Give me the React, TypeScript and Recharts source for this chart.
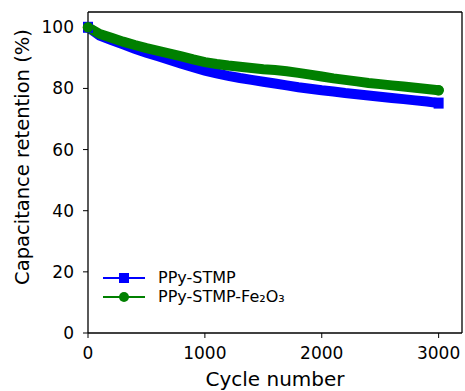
import { Line, LineChart, ReferenceLine, XAxis, YAxis } from "recharts";

const cycles = [
  0, 100, 200, 300, 400, 500, 600, 700, 800, 900, 1000, 1100, 1200, 1300, 1400,
  1500, 1600, 1700, 1800, 1900, 2000, 2100, 2200, 2300, 2400, 2500, 2600, 2700,
  2800, 2900, 3000
];

const ppyStmp = [
  100, 97.3, 95.8, 94.4, 93.0, 91.7, 90.5, 89.3, 88.1, 86.9, 85.8, 84.9, 84.1,
  83.4, 82.8, 82.2, 81.6, 81.0, 80.4, 79.9, 79.4, 79.0, 78.5, 78.1, 77.7, 77.3,
  76.9, 76.5, 76.1, 75.7, 75.2
];

const ppyStmpFe = [
  100, 97.8, 96.6, 95.3, 94.2, 93.2, 92.3, 91.4, 90.5, 89.5, 88.6, 88.0, 87.5,
  87.1, 86.7, 86.3, 86.0, 85.6, 85.1, 84.5, 83.9, 83.3, 82.8, 82.3, 81.8, 81.4,
  81.0, 80.6, 80.2, 79.8, 79.4
];

const xTicks = [0, 1000, 2000, 3000];
const yTicks = [0, 20, 40, 60, 80, 100];

const font = "'DejaVu Sans', sans-serif";
const blue = "#0000ff";
const green = "#008000";
const last = cycles.length - 1;

const data = cycles.map((cycle, i) => ({
  cycle,
  stmp: ppyStmp[i],
  stmpFe: ppyStmpFe[i]
}));

// only the end points get a visible marker, the thick stroke makes the dense band
function SquareDot(props: { cx?: number; cy?: number; index?: number }) {
  const { cx, cy, index } = props;
  if (cx == null || cy == null || (index !== 0 && index !== last)) return <g key={`sq-${index}`} />;
  return <rect key={`sq-${index}`} x={cx - 5} y={cy - 5.5} width={10} height={11} fill={blue} />;
}

function CircleDot(props: { cx?: number; cy?: number; index?: number }) {
  const { cx, cy, index } = props;
  if (cx == null || cy == null || (index !== 0 && index !== last)) return <g key={`ci-${index}`} />;
  return <circle key={`ci-${index}`} cx={cx} cy={cy} r={5.3} fill={green} />;
}

function ChartLegend() {
  const items = [
    { label: "PPy-STMP", color: blue, marker: "square" },
    { label: "PPy-STMP-Fe₂O₃", color: green, marker: "circle" }
  ];
  return (
    <div
      style={{
        position: "absolute",
        left: 102,
        top: 269,
        fontFamily: font,
        fontSize: 16,
        lineHeight: "18.7px",
        color: "#000"
      }}
    >
      {items.map((item) => (
        <div key={item.label} style={{ display: "flex", alignItems: "center", height: 18.7 }}>
          <svg width={44} height={14} style={{ marginRight: 12 }}>
            <line x1={1} y1={7} x2={43} y2={7} stroke={item.color} strokeWidth={2.2} />
            {item.marker === "square" ? (
              <rect x={17} y={2} width={10} height={10} fill={item.color} />
            ) : (
              <circle cx={22} cy={7} r={5} fill={item.color} />
            )}
          </svg>
          <span>{item.label}</span>
        </div>
      ))}
    </div>
  );
}

export default function App() {
  return (
    <div style={{ position: "absolute", left: 0, top: 0, width: 465, height: 391, background: "#fff" }}>
      <LineChart
        width={465}
        height={391}
        data={data}
        margin={{ top: 12, right: 3, bottom: 0, left: 0 }}
      >
        <XAxis
          dataKey="cycle"
          type="number"
          domain={[0, 3200]}
          ticks={xTicks}
          height={58}
          tickSize={5}
          tickMargin={9}
          stroke="#000"
          tick={{ fill: "#000", fontSize: 17, fontFamily: font }}
          axisLine={{ stroke: "#000", strokeWidth: 1.3 }}
          label={{
            content: () => (
              <text
                x={275}
                y={385.5}
                textAnchor="middle"
                fontSize={20}
                fontFamily={font}
                fill="#000"
              >
                Cycle number
              </text>
            )
          }}
        />
        <YAxis
          type="number"
          domain={[0, 105]}
          ticks={yTicks}
          width={88}
          tickSize={5}
          tickMargin={9}
          stroke="#000"
          tick={{ fill: "#000", fontSize: 17, fontFamily: font }}
          axisLine={{ stroke: "#000", strokeWidth: 1.3 }}
          label={{
            content: () => (
              <text
                x={29}
                y={157}
                transform="rotate(-90 29 157)"
                textAnchor="middle"
                fontSize={19.5}
                fontFamily={font}
                fill="#000"
              >
                Capacitance retention (%)
              </text>
            )
          }}
        />
        <ReferenceLine y={105} stroke="#000" strokeWidth={1.3} />
        <ReferenceLine x={3200} stroke="#000" strokeWidth={1.3} />
        <Line
          dataKey="stmp"
          name="PPy-STMP"
          stroke={blue}
          strokeWidth={10}
          strokeLinecap="butt"
          dot={(p: any) => <SquareDot {...p} />}
          isAnimationActive={false}
        />
        <Line
          dataKey="stmpFe"
          name="PPy-STMP-Fe₂O₃"
          stroke={green}
          strokeWidth={10}
          strokeLinecap="round"
          dot={(p: any) => <CircleDot {...p} />}
          isAnimationActive={false}
        />
      </LineChart>
      <ChartLegend />
    </div>
  );
}
